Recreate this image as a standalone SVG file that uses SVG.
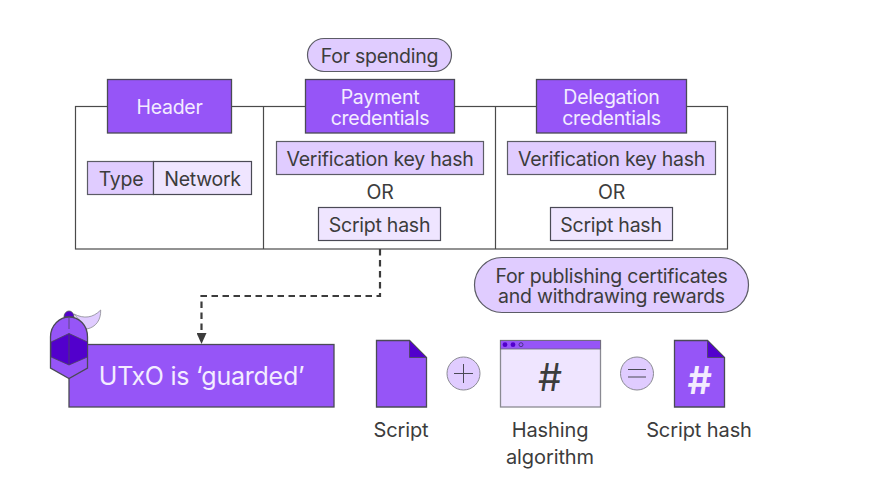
<svg xmlns="http://www.w3.org/2000/svg" width="885" height="498" viewBox="0 0 885 498">
<defs>
<style>
text{font-family:Inter,"Liberation Sans",sans-serif;font-size:19.500px;letter-spacing:-.25px;fill:#3c3c3c;text-anchor:middle}
.w{fill:#f3ecff}
.b{font-size:20px;letter-spacing:-.1px}
.d{fill:#9655f7;stroke:#4a4a55;stroke-width:1.3}
.m{fill:#e0ccff;stroke:#5c5c66;stroke-width:1.2}
.l{fill:#efe5ff;stroke:#4a4a55;stroke-width:1.2}
.k{fill:#5200cc;stroke:#4a4a55;stroke-width:.8}
</style>
<marker id="a" markerWidth="12" markerHeight="10" refX="11" refY="5" orient="auto" markerUnits="userSpaceOnUse"><path d="M0 0L11 5L0 10Z" fill="#3c3c3c"/></marker>
</defs>
<rect width="885" height="498" fill="#fff"/>
<g id="frame" fill="none" stroke="#4a4a4a" stroke-width="1.2">
<rect x="75.500" y="106.500" width="652" height="142.500"/>
<path d="M263.500 106.500V249M495.500 106.500V249"/>
</g>
<g id="connectors"><path d="M380 249V296H201.500V344" fill="none" stroke="#3c3c3c" stroke-width="2.200" stroke-dasharray="6.500 4.500" marker-end="url(#a)"/></g>
<g id="for-spending"><rect class="m" x="307.500" y="38.500" width="144" height="33" rx="16.500"/><text x="379.500" y="62.500">For spending</text></g>
<g id="header"><rect class="d" x="107.500" y="79.500" width="124" height="53.500"/><text class="w" x="169.500" y="114">Header</text></g>
<g id="type"><rect class="m" x="87.500" y="161.500" width="66" height="33"/><text x="121" y="186">Type</text></g>
<g id="network"><rect class="l" x="153.500" y="161.500" width="98" height="33"/><text x="202.500" y="186">Network</text></g>
<g id="payment"><rect class="d" x="305.500" y="79.500" width="149" height="53.500"/><text class="w" x="380" y="104">Payment</text><text class="w" x="380" y="124.500">credentials</text></g>
<g id="vkh1"><rect class="m" x="276.500" y="141.500" width="207" height="33"/><text x="380" y="166">Verification key hash</text></g>
<g id="or1"><text x="380" y="199">OR</text></g>
<g id="sh1"><rect class="l" x="318.500" y="207.500" width="122" height="33"/><text x="379.500" y="232">Script hash</text></g>
<g id="delegation"><rect class="d" x="536.500" y="79.500" width="150" height="53.500"/><text class="w" x="611.500" y="104">Delegation</text><text class="w" x="611.500" y="124.500">credentials</text></g>
<g id="vkh2"><rect class="m" x="507.500" y="141.500" width="208" height="33"/><text x="611.500" y="166">Verification key hash</text></g>
<g id="or2"><text x="611.500" y="199">OR</text></g>
<g id="sh2"><rect class="l" x="550.500" y="207.500" width="122" height="33"/><text x="611" y="232">Script hash</text></g>
<g id="for-publishing"><rect class="m" x="474.500" y="257.500" width="274" height="55" rx="27.500"/><text x="611.500" y="282.500">For publishing certificates</text><text x="611.500" y="303">and withdrawing rewards</text></g>
<g id="utxo"><rect class="d" x="69" y="344.500" width="265" height="62.500"/><text class="w" x="201.500" y="385" style="font-size:25px">UTxO is ‘guarded’</text></g>
<g id="guard">
<path d="M74 314C84 319 93 318 100.700 310C101 320 96 327 87 329Z" fill="#e0ccff" stroke="#8a8a92" stroke-width=".8"/>
<path class="k" d="M64 317A5 6 0 0 1 74 317Z"/>
<path class="d" d="M50.500 368V337C50.500 325 60 317 69 317C79 317 87.500 325 87.500 337V368L69 378.500Z"/>
<path d="M69 317V329" stroke="#5c4a80" stroke-width="1"/>
<path class="k" d="M69 333.500L87.500 342V357L69 365L51 357V342Z"/>
<path d="M69 333.500V365" stroke="#4a4a55" stroke-width=".8"/>
</g>
<g id="script"><path class="d" d="M376.500 340.500H409.500L426.500 357.500V407H376.500Z"/><path class="k" d="M409.500 340.500L426.500 357.500H409.500Z"/><text class="b" x="401" y="436.500">Script</text></g>
<g id="plus"><circle cx="463.500" cy="373.500" r="16.500" fill="#e0ccff" stroke="#8a8a92"/><path d="M463.500 364V383M454 373.500H473" stroke="#4a4a55" stroke-width="1"/></g>
<g id="hashing"><rect x="500.500" y="340.500" width="100" height="66.500" fill="#efe5ff" stroke="#8a8a92" stroke-width="1.300"/><rect x="500.500" y="340.500" width="100" height="8.500" fill="#9655f7" stroke="#6a6a72" stroke-width=".8"/><circle cx="505" cy="344.700" r="2.400" fill="#5200cc"/><circle cx="513" cy="344.700" r="2.400" fill="#5200cc"/><circle cx="521" cy="344.700" r="2" fill="#9655f7" stroke="#3c2a70" stroke-width=".8"/><text x="550" y="391" style="font-size:38px">#</text><text class="b" x="550" y="436.500">Hashing</text><text class="b" x="550" y="463.500">algorithm</text></g>
<g id="equals"><circle cx="637" cy="373.500" r="16.500" fill="#e0ccff" stroke="#8a8a92"/><path d="M628 369.500H646M628 377H646" stroke="#4a4a55" stroke-width="1"/></g>
<g id="script-hash"><path class="d" d="M674.500 340.500H707.500L724.500 357.500V407H674.500Z"/><path class="k" d="M707.500 340.500L724.500 357.500H707.500Z"/><text class="w" x="699.500" y="394" style="font-size:38px;font-weight:600">#</text><text class="b" x="699" y="436.500">Script hash</text></g>
</svg>
